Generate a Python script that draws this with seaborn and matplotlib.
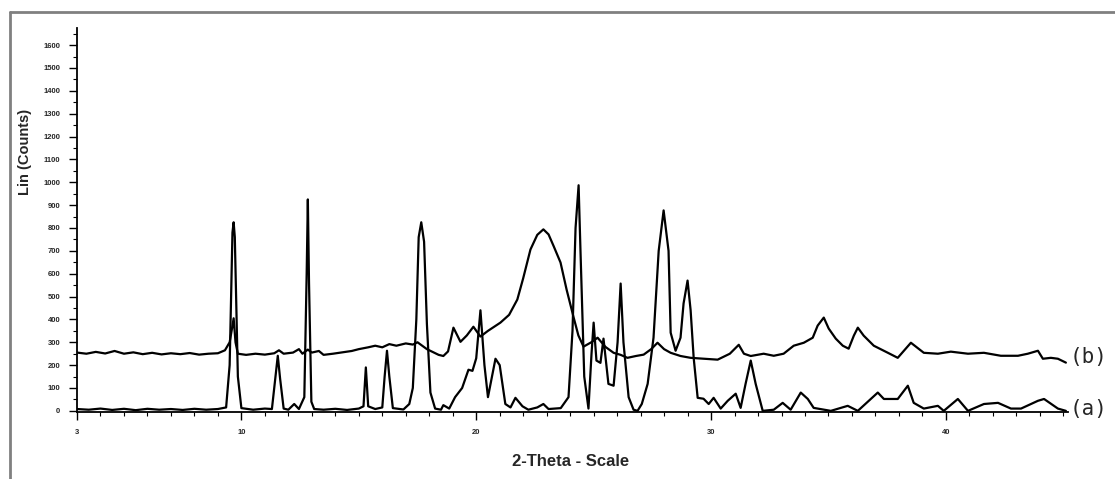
import pandas as pd
import matplotlib.pyplot as plt
import seaborn as sns
from matplotlib.lines import Line2D
from matplotlib.ticker import MultipleLocator

# XRD patterns: 2-theta (deg) and counts
theta_a = [3.0, 3.5, 4.0, 4.5, 5.0, 5.5, 6.0, 6.5, 7.0, 7.5, 8.0, 8.5, 9.0,
           9.35, 9.5, 9.62, 9.67, 9.72, 9.85, 10.0, 10.5, 11.0,
           11.3, 11.45, 11.55, 11.65, 11.8, 12.0, 12.25, 12.45,
           12.68, 12.78, 12.83, 12.88, 12.98, 13.1, 13.5, 14.0, 14.5, 15.0,
           15.2, 15.3, 15.4, 15.7, 16.0, 16.1, 16.2, 16.3, 16.45, 16.9,
           17.15, 17.3, 17.45, 17.55, 17.66, 17.78, 17.9, 18.05, 18.25, 18.5,
           18.6, 18.85, 19.1, 19.4, 19.67, 19.84, 20.0, 20.18, 20.35, 20.5,
           20.82, 21.0, 21.24, 21.46, 21.67, 21.97, 22.22, 22.6, 22.86, 23.08,
           23.6, 23.93, 24.1, 24.23, 24.36, 24.44, 24.6, 24.78, 24.91, 25.0,
           25.12, 25.29, 25.42, 25.63, 25.85, 26.02, 26.15, 26.27, 26.49, 26.7,
           26.87, 27.05, 27.3, 27.55, 27.77, 27.98, 28.19, 28.28, 28.49, 28.7,
           28.83, 29.0, 29.13, 29.26, 29.43, 29.68, 29.9, 30.11, 30.41, 30.71,
           31.05, 31.26, 31.47, 31.69, 31.9, 32.2, 32.67, 33.05, 33.39, 33.82,
           34.12, 34.37, 35.1, 35.82, 36.25, 37.1, 37.36, 37.95, 38.38, 38.63,
           39.06, 39.66, 39.91, 40.51, 40.94, 41.62, 42.22, 42.77, 43.2, 43.92,
           44.18, 44.77, 45.11]
counts_a = [8, 5, 10, 4, 9, 3, 9, 5, 8, 4, 9, 5, 8,
            15, 200, 780, 825, 760, 150, 12, 5, 10,
            8, 150, 241, 140, 10, 5, 30, 8,
            60, 600, 925, 560, 40, 8, 5, 9, 4, 10,
            20, 190, 20, 8, 15, 150, 263, 150, 12, 6,
            30, 100, 400, 760, 825, 740, 380, 80, 10, 5,
            25, 10, 60, 100, 180, 175, 230, 440, 200, 60,
            228, 200, 30, 15, 57, 20, 5, 15, 30, 8,
            12, 60, 350, 800, 987, 700, 150, 10, 250, 386,
            220, 210, 316, 118, 110, 300, 557, 300, 60, 5,
            0, 30, 118, 320, 700, 877, 700, 342, 263, 320,
            470, 570, 440, 232, 57, 53, 30, 57, 10, 44,
            75, 13, 118, 220, 118, 0, 5, 35, 5, 80,
            52, 13, 0, 22, 0, 80, 52, 52, 110, 35,
            10, 22, 0, 52, 0, 30, 35, 10, 10, 44,
            52, 10, 0]

theta_b = [3.0, 3.4, 3.8, 4.2, 4.6, 5.0, 5.4, 5.8, 6.2, 6.6, 7.0, 7.4, 7.8,
           8.2, 8.6, 9.0, 9.3, 9.5, 9.6, 9.67, 9.75, 9.85, 10.2, 10.6, 11.0,
           11.4, 11.6, 11.8, 12.2, 12.45, 12.6, 12.83, 13.0, 13.3, 13.5, 13.9,
           14.3, 14.7, 15.0, 15.4, 15.7, 16.0, 16.3, 16.6, 17.0, 17.3, 17.5,
           17.7, 17.9, 18.2, 18.4, 18.6, 18.8, 19.03, 19.33, 19.6, 19.88, 20.18,
           20.5, 21.03, 21.4, 21.75, 22.0, 22.31, 22.6, 22.86, 23.08, 23.3,
           23.59, 23.85, 24.14, 24.35, 24.57, 24.9, 25.17, 25.5, 25.85, 26.15,
           26.44, 26.8, 27.13, 27.45, 27.72, 28.0, 28.28, 28.7, 29.13, 29.7,
           30.28, 30.8, 31.18, 31.4, 31.69, 32.24, 32.67, 33.09, 33.52, 33.95,
           34.33, 34.54, 34.8, 35.01, 35.31, 35.61, 35.86, 36.08, 36.25, 36.5,
           36.93, 37.53, 37.95, 38.51, 39.06, 39.66, 40.21, 40.94, 41.62, 42.34,
           43.07, 43.49, 43.92, 44.13, 44.47, 44.77, 45.11]
counts_b = [255, 250, 258, 251, 262, 250, 256, 248, 254, 247, 252, 248, 253,
            246, 250, 252, 265, 300, 360, 405, 300, 250, 245, 250, 246,
            252, 265, 250, 255, 270, 250, 268, 255, 262, 245, 250,
            256, 262, 270, 278, 285, 278, 292, 285, 295, 290, 300,
            285, 270, 255, 245, 240, 260, 364, 302, 330, 368, 325,
            350, 386, 420, 487, 580, 706, 770, 794, 772, 720,
            649, 530, 412, 330, 281, 300, 320, 280, 254, 245,
            232, 240, 246, 270, 298, 270, 254, 240, 232, 228,
            224, 250, 289, 250, 240, 250, 241, 250, 285, 298,
            320, 373, 408, 360, 316, 285, 272, 329, 364, 329,
            285, 254, 232, 298, 254, 250, 259, 250, 254, 241,
            241, 250, 263, 228, 232, 228, 211]

y_ticks = list(range(0, 1700, 100))
x_ticks = [3, 10, 20, 30, 40]
series_labels = ['(a)', '(b)']

df_a = pd.DataFrame({'theta': theta_a, 'counts': counts_a})
df_b = pd.DataFrame({'theta': theta_b, 'counts': counts_b})

sns.set_style('white')
plt.rcParams['font.family'] = ['Liberation Sans', 'DejaVu Sans']

fig = plt.figure(figsize=(11.15, 4.79), dpi=100)
W, H = 1115, 479
ax = fig.add_axes([77 / W, 1 - 412 / H, (1068 - 77) / W, (412 - 28) / H])

sns.lineplot(data=df_a, x='theta', y='counts', color='black', lw=1.6,
             estimator=None, ax=ax)
sns.lineplot(data=df_b, x='theta', y='counts', color='black', lw=1.6,
             estimator=None, ax=ax)

ax.set_xlim(3, 45.2)
ax.set_ylim(-5, 1675)
ax.set_xticks(x_ticks)
ax.set_xticklabels([str(t) for t in x_ticks], fontsize=5.5, fontweight='bold')
ax.set_yticks(y_ticks)
ax.set_yticklabels([str(t) for t in y_ticks], fontsize=5.5, fontweight='bold')
ax.xaxis.set_minor_locator(MultipleLocator(1))
ax.yaxis.set_minor_locator(MultipleLocator(50))
ax.tick_params(axis='both', which='major', direction='out', length=6,
               width=1, color='black', pad=6, bottom=True, left=True)
ax.tick_params(axis='both', which='minor', direction='out', length=3,
               width=0.8, color='black', bottom=True, left=True)
ax.set_xlabel('')
ax.set_ylabel('')
for side in ['top', 'right']:
    ax.spines[side].set_visible(False)
for side in ['left', 'bottom']:
    ax.spines[side].set_color('black')
    ax.spines[side].set_linewidth(1.3)

# axis titles placed like the scan
fig.text(25 / W, 1 - 152 / H, 'Lin (Counts)', rotation=90, ha='center',
         va='center', fontsize=10.5, fontweight='bold')
fig.text(571 / W, 1 - 462 / H, '2-Theta - Scale', ha='center', va='center',
         fontsize=12, fontweight='bold')

# series tags at the end of each trace
ax.text(45.25, counts_a[-1] + 10, series_labels[0], family='DejaVu Sans Mono',
        fontsize=15, ha='left', va='center', clip_on=False)
ax.text(45.25, counts_b[-1] + 25, series_labels[1], family='DejaVu Sans Mono',
        fontsize=15, ha='left', va='center', clip_on=False)

# grey frame from the screenshot (top and left edges)
fig.add_artist(Line2D([10 / W, 1], [1 - 12 / H, 1 - 12 / H], color='#808080', lw=2))
fig.add_artist(Line2D([10 / W, 10 / W], [0, 1 - 12 / H], color='#808080', lw=2))

fig.savefig('out.png', dpi=100)
